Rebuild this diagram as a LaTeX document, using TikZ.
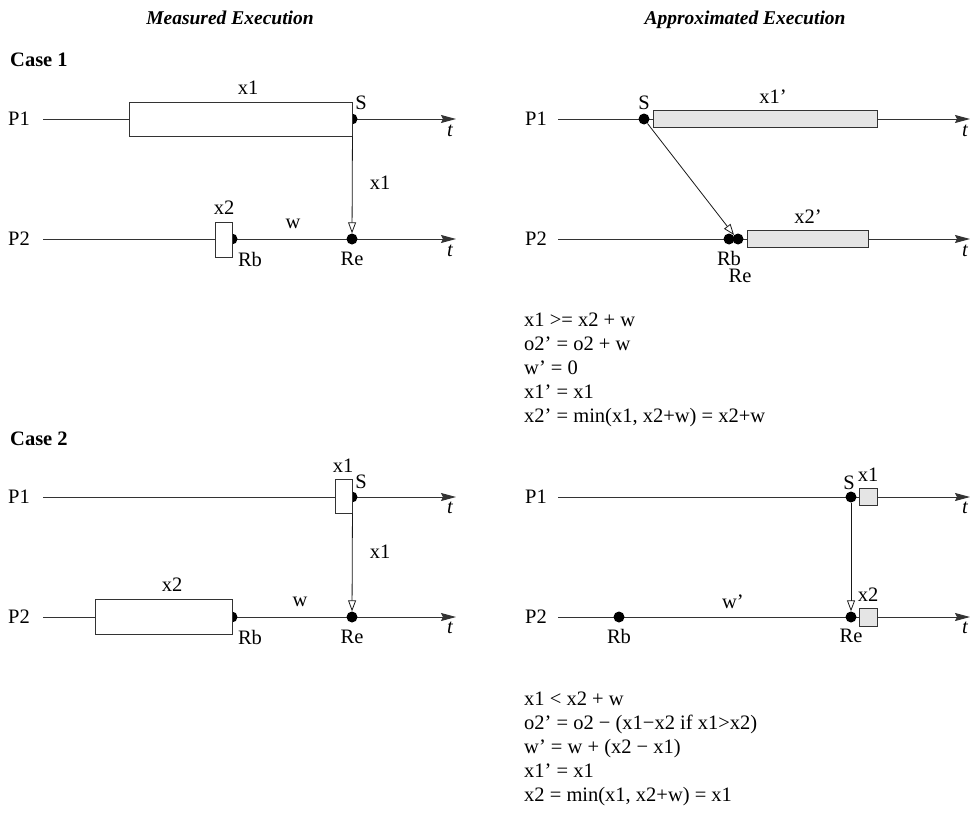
\documentclass[tikz,border=0pt]{standalone}
\usepackage{fontspec}
\setmainfont{Liberation Serif}
\usetikzlibrary{arrows.meta}
\newcommand\bodyfs{\fontsize{20.5}{24}\selectfont}
\tikzset{
  lw/.style={line width=0.9pt, draw=black!80},
  axis/.style={lw, -{Stealth[length=15pt,width=8pt,inset=2pt]}},
  msg/.style={line width=0.8pt, draw=black!90, -{Triangle[open,length=11pt,width=8pt]}},
  ev/.style={circle, fill=black, inner sep=0pt, minimum size=11pt},
  wbox/.style={lw, fill=white, inner sep=0pt},
  gbox/.style={lw, fill=black!10, inner sep=0pt},
  lbl/.style={inner sep=0pt},
  ttl/.style={inner sep=0pt, anchor=base, font=\fontsize{19.5}{24}\selectfont\bfseries\itshape},
  cas/.style={inner sep=0pt, anchor=base west, font=\fontsize{20.5}{24}\selectfont\bfseries},
  eq/.style={inner sep=0pt, anchor=base west},
  tl/.style={inner sep=0pt, font=\bodyfs\itshape},
}
\begin{document}
\begin{tikzpicture}[x=1pt,y=-1pt, every node/.append style={font=\bodyfs}]
\useasboundingbox (0,0) rectangle (973,814);

% titles
\node[ttl] (tm) at (230,24) {Measured Execution};
\node[ttl] (ta) at (745,24) {Approximated Execution};
\node[cas] (c1) at (10,66) {Case 1};
\node[cas] (c2) at (10,445) {Case 2};

% ================= Case 1, measured =================
\node[lbl, anchor=west] (p11) at (8,119) {P1};
\node[lbl, anchor=west] (p12) at (8,239) {P2};
\coordinate (a11s) at (43,119); \coordinate (a11e) at (456,119);
\coordinate (a12s) at (43,239); \coordinate (a12e) at (456,239);
\draw[axis] (a11s) -- (a11e);
\draw[axis] (a12s) -- (a12e);
\node[ev] (S1) at (352,119) {};
\node[ev] (Rb1) at (232,239) {};
\node[ev] (Re1) at (352,239) {};
\node[wbox, minimum width=223pt, minimum height=34pt] (b11) at (240.5,119) {};
\node[wbox, minimum width=17pt, minimum height=35pt] (b12) at (223.5,239.5) {};
\draw[msg] (b11.south east) -- (Re1);
\node[lbl] (lx11) at (248,88) {x1};
\node[lbl] (lS1) at (361,103) {S};
\node[lbl] (lm1) at (380,183) {x1};
\node[lbl] (lx21) at (224,208) {x2};
\node[lbl] (lw1) at (293,224) {w};
\node[lbl] (lRb1) at (250,259) {Rb};
\node[lbl] (lRe1) at (352,259) {Re};
\node[tl] (t11) at (450,131) {t};
\node[tl] (t12) at (450,251) {t};

% ================= Case 1, approximated =================
\node[lbl, anchor=west] (p21) at (525,119) {P1};
\node[lbl, anchor=west] (p22) at (525,239) {P2};
\coordinate (a21s) at (558,119); \coordinate (a21e) at (970,119);
\coordinate (a22s) at (558,239); \coordinate (a22e) at (970,239);
\draw[axis] (a21s) -- (a21e);
\draw[axis] (a22s) -- (a22e);
\node[ev] (S2) at (644,119) {};
\node[ev] (Rb2) at (729,239) {};
\node[ev] (Re2) at (738,239) {};
\node[gbox, minimum width=224pt, minimum height=17pt] (b21) at (765,118.5) {};
\node[gbox, minimum width=121pt, minimum height=17pt] (b22) at (807.5,238.5) {};
\draw[msg] (S2) -- (Re2.north west);
\node[lbl] (lS2) at (644,103) {S};
\node[lbl] (lx12) at (773,97) {x1’};
\node[lbl] (lx22) at (808,217) {x2’};
\node[lbl] (lRb2) at (729,258) {Rb};
\node[lbl] (lRe2) at (740,276) {Re};
\node[tl] (t21) at (965,131) {t};
\node[tl] (t22) at (965,251) {t};

\node[eq] (e11) at (524,326) {x1 >= x2 + w};
\node[eq] (e12) at (524,350) {o2’ = o2 + w};
\node[eq] (e13) at (524,374) {w’ = 0};
\node[eq] (e14) at (524,398) {x1’ = x1};
\node[eq] (e15) at (524,422) {x2’ = min(x1, x2+w) = x2+w};

% ================= Case 2, measured =================
\node[lbl, anchor=west] (p31) at (8,497) {P1};
\node[lbl, anchor=west] (p32) at (8,617) {P2};
\coordinate (a31s) at (43,497); \coordinate (a31e) at (456,497);
\coordinate (a32s) at (43,617); \coordinate (a32e) at (456,617);
\draw[axis] (a31s) -- (a31e);
\draw[axis] (a32s) -- (a32e);
\node[ev] (S3) at (352,497) {};
\node[ev] (Rb3) at (232,617) {};
\node[ev] (Re3) at (352,617) {};
\node[wbox, minimum width=17pt, minimum height=34pt] (b31) at (343.5,496) {};
\node[wbox, minimum width=137pt, minimum height=35pt] (b32) at (163.5,616.5) {};
\draw[msg] (b31.south east) -- (Re3);
\node[lbl] (lx13) at (343,466) {x1};
\node[lbl] (lS3) at (361,482) {S};
\node[lbl] (lm3) at (380,552) {x1};
\node[lbl] (lx23) at (172,585) {x2};
\node[lbl] (lw3) at (300,602) {w};
\node[lbl] (lRb3) at (250,637) {Rb};
\node[lbl] (lRe3) at (352,637) {Re};
\node[tl] (t31) at (450,508) {t};
\node[tl] (t32) at (450,628) {t};

% ================= Case 2, approximated =================
\node[lbl, anchor=west] (p41) at (525,497) {P1};
\node[lbl, anchor=west] (p42) at (525,617) {P2};
\coordinate (a41s) at (558,497); \coordinate (a41e) at (970,497);
\coordinate (a42s) at (558,617); \coordinate (a42e) at (970,617);
\draw[axis] (a41s) -- (a41e);
\draw[axis] (a42s) -- (a42e);
\node[ev] (S4) at (851,497) {};
\node[ev] (Rb4) at (619,617) {};
\node[ev] (Re4) at (851,617) {};
\node[gbox, minimum width=18pt, minimum height=17pt] (b41) at (868,496.5) {};
\node[gbox, minimum width=18pt, minimum height=18pt] (b42) at (868,617) {};
\draw[msg] (S4) -- (Re4);
\node[lbl] (lS4) at (849,483) {S};
\node[lbl] (lx14) at (868,475) {x1};
\node[lbl] (lx24) at (868,595) {x2};
\node[lbl] (lw4) at (733,602) {w’};
\node[lbl] (lRb4) at (619,636) {Rb};
\node[lbl] (lRe4) at (851,636) {Re};
\node[tl] (t41) at (965,508) {t};
\node[tl] (t42) at (965,628) {t};

\node[eq] (e21) at (524,705) {x1 < x2 + w};
\node[eq] (e22) at (524,729) {o2’ = o2 − (x1−x2 if x1>x2)};
\node[eq] (e23) at (524,753) {w’ = w + (x2 − x1)};
\node[eq] (e24) at (524,777) {x1’ = x1};
\node[eq] (e25) at (524,801) {x2 = min(x1, x2+w) = x1};
\end{tikzpicture}
\end{document}
